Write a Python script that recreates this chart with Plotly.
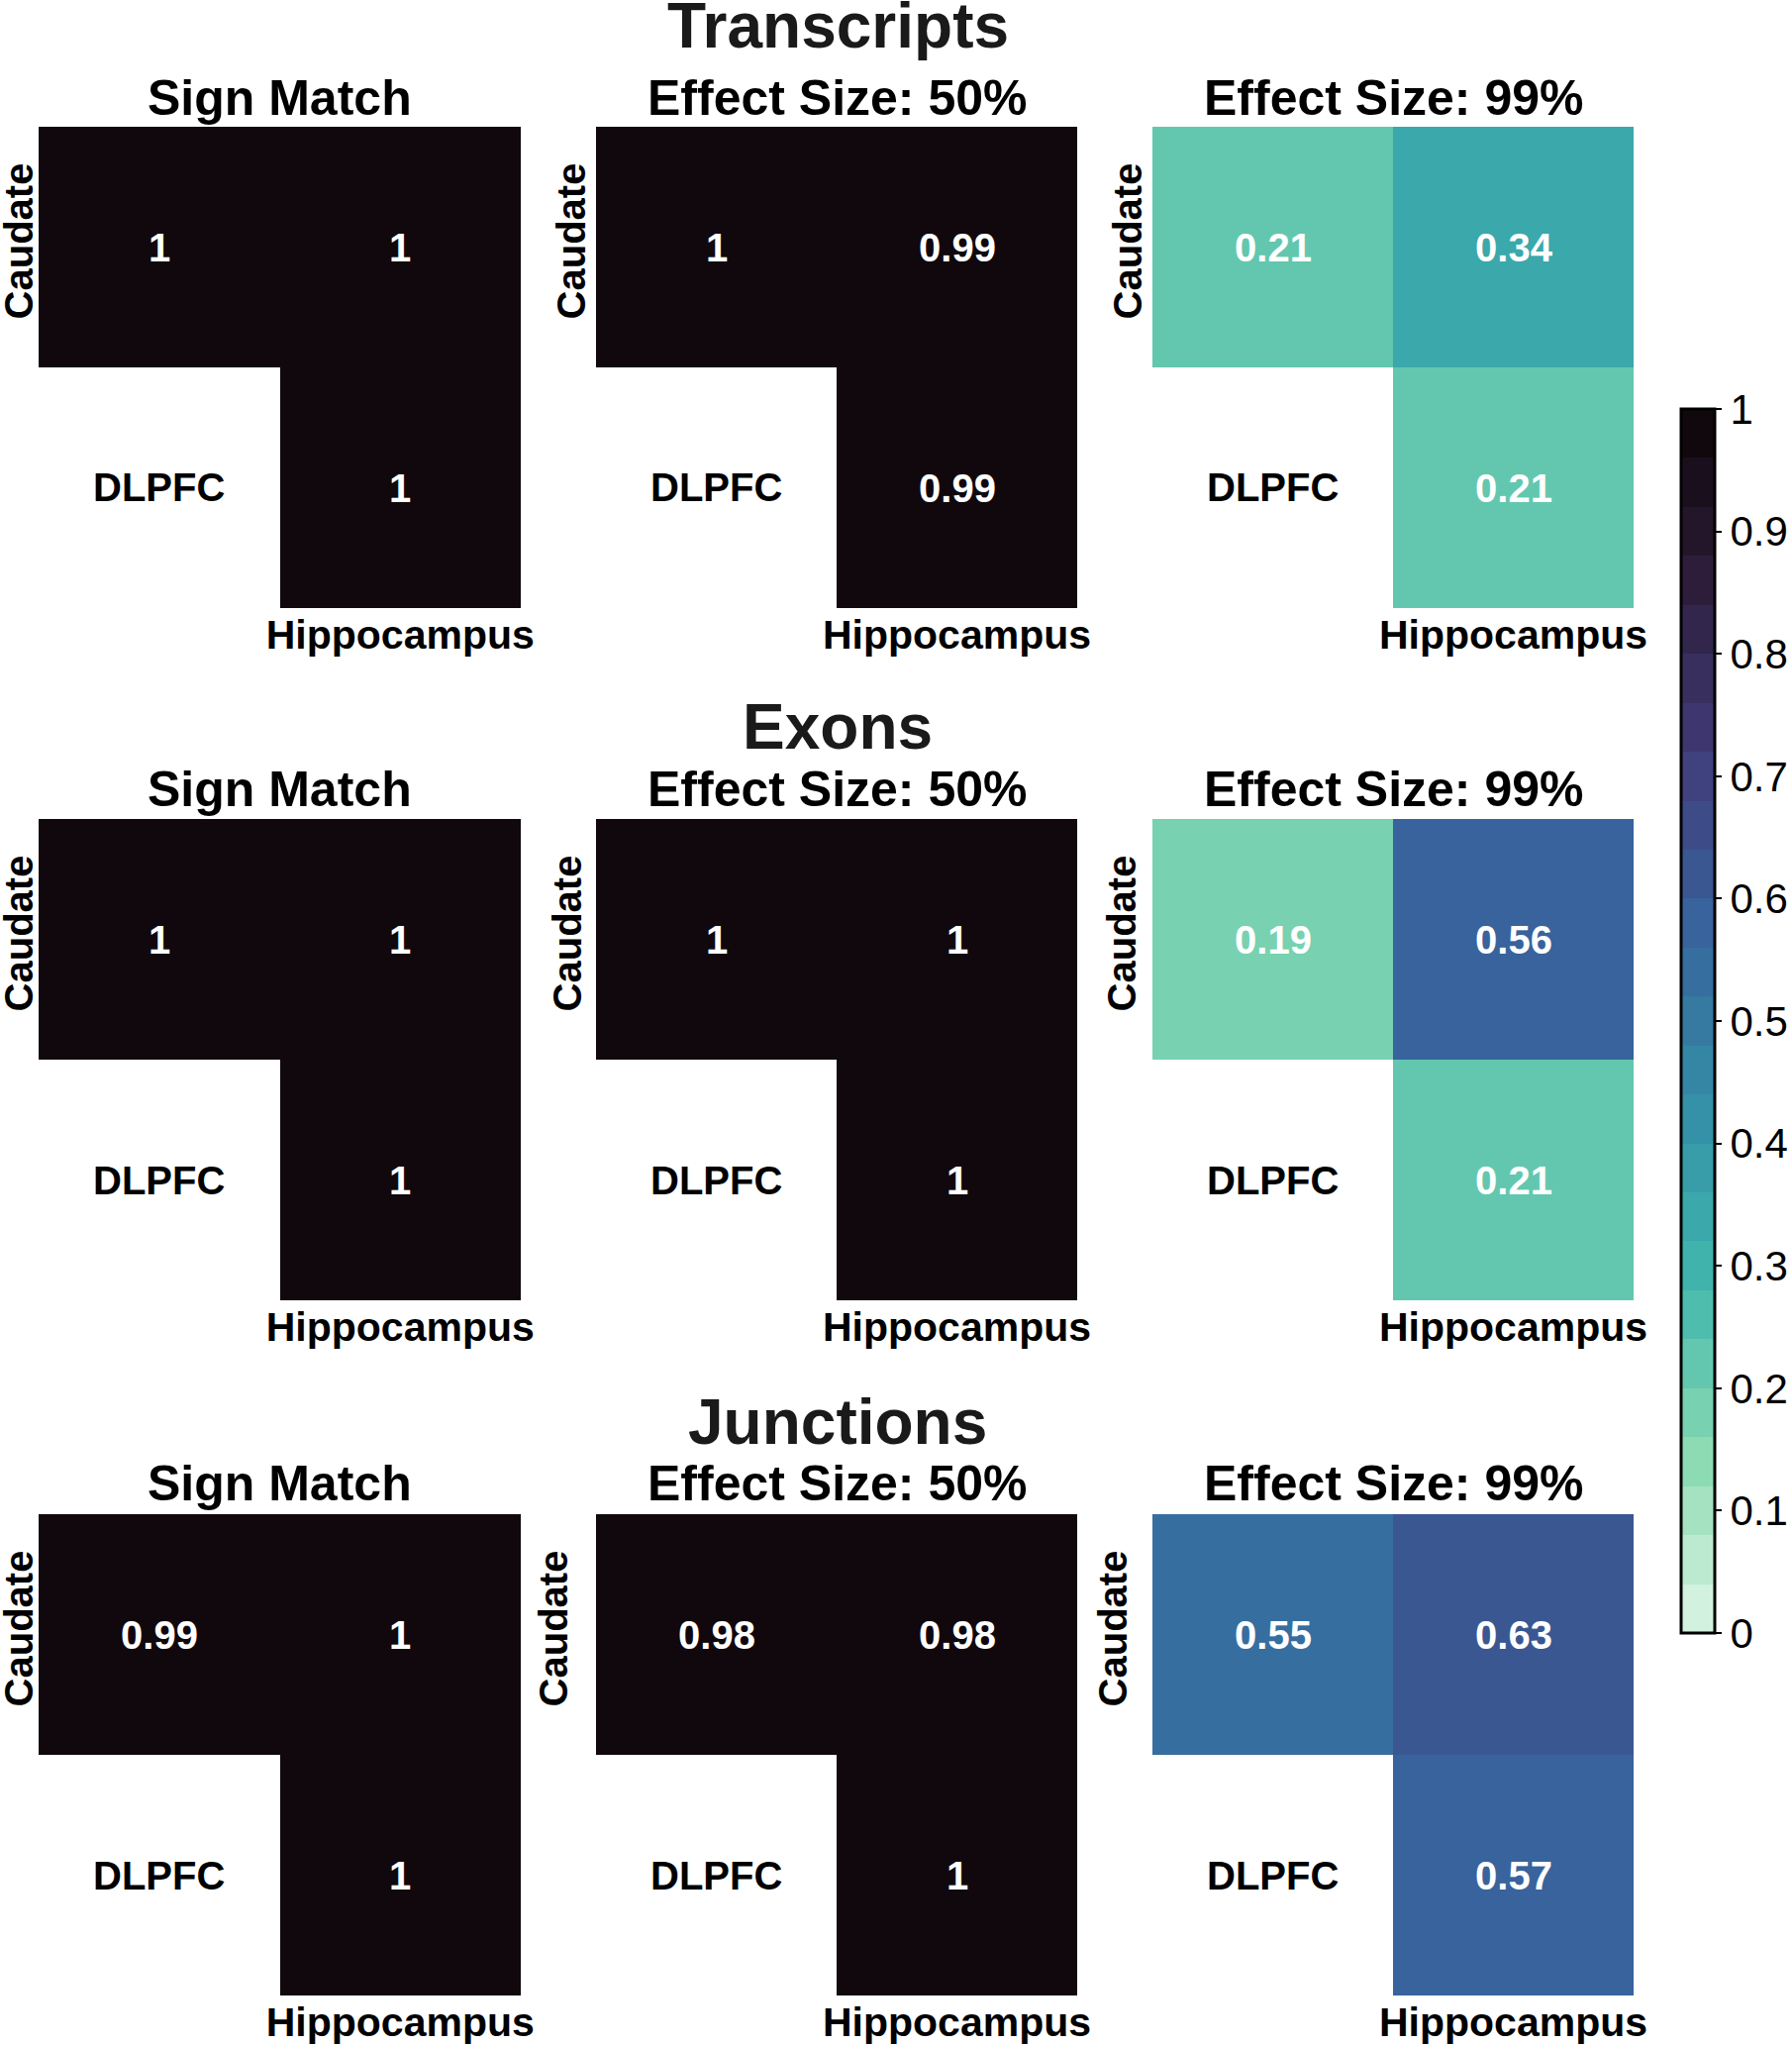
import plotly.graph_objects as go

W, H = 1810, 2065

row_titles = ["Transcripts", "Exons", "Junctions"]
col_titles = ["Sign Match", "Effect Size: 50%", "Effect Size: 99%"]
y_labels = ["Caudate", "DLPFC"]
x_labels = ["DLPFC", "Hippocampus"]

# Each list: [Caudate vs DLPFC, Caudate vs Hippocampus, DLPFC vs Hippocampus]
transcripts_sign = [1, 1, 1]
transcripts_es50 = [1, 0.99, 0.99]
transcripts_es99 = [0.21, 0.34, 0.21]
exons_sign = [1, 1, 1]
exons_es50 = [1, 1, 1]
exons_es99 = [0.19, 0.56, 0.21]
junctions_sign = [0.99, 1, 1]
junctions_es50 = [0.98, 0.98, 1]
junctions_es99 = [0.55, 0.63, 0.57]

data = [
    [transcripts_sign, transcripts_es50, transcripts_es99],
    [exons_sign, exons_es50, exons_es99],
    [junctions_sign, junctions_es50, junctions_es99],
]

cbar_ticks = [0, 0.1, 0.2, 0.3, 0.4, 0.5, 0.6, 0.7, 0.8, 0.9, 1]
cbar_ticktext = ["0", "0.1", "0.2", "0.3", "0.4", "0.5", "0.6", "0.7", "0.8", "0.9", "1"]

# layout in pixels
panel_x = [(39, 526), (602, 1088), (1164, 1650)]
panel_y = [(128, 614), (827, 1313), (1529, 2015)]
subtitle_y = [99, 797, 1498]
title_y = [26, 734, 1436]
standoffs = [[-3, 2, 2], [-3, 6, 8], [-3, 20, 17]]

# mako colormap anchors (0 -> dark, 1 -> light); used reversed
mako = [
    (0.0, (11, 4, 5)),
    (1 / 7, (46, 30, 59)),
    (2 / 7, (65, 61, 123)),
    (3 / 7, (55, 101, 158)),
    (4 / 7, (52, 143, 167)),
    (5 / 7, (64, 183, 173)),
    (6 / 7, (139, 218, 178)),
    (1.0, (222, 245, 229)),
]


def mako_r(t):
    t = 1 - t
    for (a, ca), (b, cb) in zip(mako[:-1], mako[1:]):
        if a <= t <= b:
            f = (t - a) / (b - a)
            c = [round(ca[i] + f * (cb[i] - ca[i])) for i in range(3)]
            return "rgb(%d,%d,%d)" % tuple(c)
    return "rgb(%d,%d,%d)" % mako[-1][1]


NB = 25
colorscale = []
for k in range(NB):
    c = mako_r((k + 0.5) / NB)
    colorscale.append([k / NB, c])
    colorscale.append([(k + 1) / NB, c])

FONT = "Liberation Sans, Arial, Helvetica, sans-serif"

fig = go.Figure()
annotations = []
idx = 0
for r in range(3):
    for c in range(3):
        idx += 1
        vals = data[r][c]
        z = [[vals[0], vals[1]], [None, vals[2]]]
        txt = [[f"{vals[0]:g}", f"{vals[1]:g}"], ["", f"{vals[2]:g}"]]
        xa = "x" if idx == 1 else f"x{idx}"
        ya = "y" if idx == 1 else f"y{idx}"
        fig.add_trace(go.Heatmap(
            z=z, x=x_labels, y=y_labels, text=txt,
            texttemplate="<b>%{text}</b>",
            textfont=dict(family=FONT, size=40, color="white"),
            coloraxis="coloraxis", xaxis=xa, yaxis=ya,
            hoverongaps=False,
        ))
        x0, x1 = panel_x[c]
        y0, y1 = panel_y[r]
        xk = "xaxis" if idx == 1 else f"xaxis{idx}"
        yk = "yaxis" if idx == 1 else f"yaxis{idx}"
        fig.layout[xk] = dict(
            domain=[x0 / W, x1 / W], anchor=ya, type="category",
            categoryorder="array", categoryarray=x_labels,
            tickvals=["Hippocampus"], ticktext=["<b>Hippocampus</b>"],
            tickfont=dict(family=FONT, size=41, color="black"),
            showgrid=False, zeroline=False, showline=False, ticks="",
            ticklabelstandoff=-1, fixedrange=True, automargin=False,
        )
        fig.layout[yk] = dict(
            domain=[1 - y1 / H, 1 - y0 / H], anchor=xa, type="category",
            categoryorder="array", categoryarray=y_labels, autorange="reversed",
            tickvals=["Caudate"], ticktext=["<b>Caudate</b>"], tickangle=-90,
            tickfont=dict(family=FONT, size=40, color="black"),
            showgrid=False, zeroline=False, showline=False, ticks="",
            ticklabelstandoff=standoffs[r][c], fixedrange=True, automargin=False,
        )
        # label in masked diagonal cell
        annotations.append(dict(
            x="DLPFC", y="DLPFC", xref=xa, yref=ya, text="<b>DLPFC</b>",
            showarrow=False, font=dict(family=FONT, size=40, color="black"),
        ))
        # subplot title
        annotations.append(dict(
            x=(x0 + x1) / 2 / W, y=1 - subtitle_y[r] / H, xref="paper", yref="paper",
            text=f"<b>{col_titles[c]}</b>", showarrow=False,
            xanchor="center", yanchor="middle",
            font=dict(family=FONT, size=50, color="black"),
        ))
    annotations.append(dict(
        x=846 / W, y=1 - title_y[r] / H, xref="paper", yref="paper",
        text=f"<b>{row_titles[r]}</b>", showarrow=False,
        xanchor="center", yanchor="middle",
        font=dict(family=FONT, size=64, color="#1a1a1a"),
    ))

cb_top, cb_bot = 413, 1649
fig.update_layout(
    width=W, height=H, margin=dict(l=0, r=0, t=0, b=0, autoexpand=False),
    paper_bgcolor="white", plot_bgcolor="white",
    font=dict(family=FONT),
    annotations=annotations,
    coloraxis=dict(
        colorscale=colorscale, cmin=0, cmax=1,
        colorbar=dict(
            x=1698 / W, xanchor="left", thickness=34,
            y=1 - (cb_top + cb_bot) / 2 / H, yanchor="middle",
            len=(cb_bot - cb_top) / H, lenmode="fraction",
            outlinewidth=3, outlinecolor="black",
            tickmode="array", tickvals=cbar_ticks, ticktext=cbar_ticktext,
            ticks="outside", ticklen=6, tickwidth=2, tickcolor="black",
            tickfont=dict(family=FONT, size=42, color="black"),
            xpad=0, ypad=0,
        ),
    ),
)

fig.write_html("out.html")
